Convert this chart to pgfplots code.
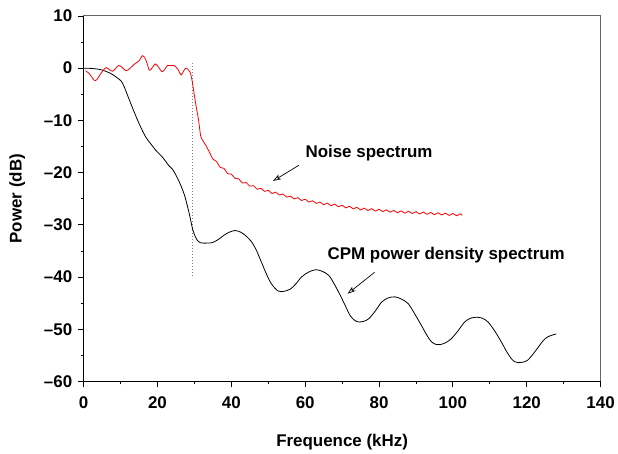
\documentclass[border=0pt]{standalone}
\usepackage{fontspec}
\setmainfont{Liberation Sans}
\usepackage{pgfplots}
\pgfplotsset{compat=1.18}
\usetikzlibrary{arrows.meta}
\begin{document}
\begin{tikzpicture}
\begin{axis}[
  scale only axis,
  width=519pt, height=367pt,
  xmin=0, xmax=140, ymin=-60, ymax=10,
  xtick={0,20,...,140}, ytick={-60,-50,...,10},
  yticklabels={--60,--50,--40,--30,--20,--10,0,10},
  minor x tick num=1, minor y tick num=1,
  tick align=outside, xtick pos=left, ytick pos=left,
  major tick length=6pt, minor tick length=3pt,
  tick style={black, line width=0.8pt},
  axis line style={draw=gray!80!black, line width=1pt},
  /pgf/number format/assume math mode=true,
  ticklabel style={font=\fontsize{17}{20}\selectfont\bfseries},
  xticklabel style={yshift=-6pt},
  yticklabel style={xshift=-2pt},
  label style={font=\fontsize{17}{20}\selectfont\bfseries},
  xlabel={Frequence (kHz)}, ylabel={Power (dB)},
  xlabel style={yshift=-19pt},
  ylabel style={yshift=12pt},
  clip=false,
]
\addplot[gray, dotted, line width=1pt] coordinates {(29.5,1) (29.5,-40)};
\addplot[black, smooth, line width=0.8pt] coordinates {
(0,0) (2,-0.05) (4,-0.2) (5.2,-0.4) (7,-0.9) (7.9,-1.25) (9,-1.8) (10.2,-2.5)
(11,-3.6) (12,-5.4) (13,-7.2) (13.8,-8.6) (15,-10.6) (16,-12.1) (17,-13.4)
(18.3,-14.6) (19.5,-15.7) (21.4,-17.1) (23,-18.6) (24.1,-19.4) (25.3,-20.9)
(26.4,-22.6) (27.3,-24.3) (28.1,-26.4) (28.8,-28.5) (29.5,-30.8) (30.2,-32.2)
(30.8,-33.0) (31.5,-33.4) (32.2,-33.5) (33.5,-33.5) (34.9,-33.4) (36.5,-32.8)
(38.0,-32.0) (39.5,-31.4) (41.0,-31.1) (42.5,-31.4) (43.9,-32.1) (45.3,-33.1)
(46.6,-34.6) (48,-36.9) (49.3,-39.1) (50.5,-40.9) (51.5,-41.9) (52.5,-42.6)
(53.3,-42.8) (54.5,-42.7) (56.0,-42.3) (57.5,-41.3) (59.0,-40.0) (60.8,-39.1)
(62.8,-38.6) (64.6,-38.9) (66.4,-39.7) (68,-41.5) (69.5,-43.5) (71,-45.7)
(72.2,-47.4) (73.4,-48.3) (74.5,-48.6) (75.8,-48.5) (77.2,-48.0) (79,-46.5)
(80.7,-44.8) (82.5,-44.0) (84.3,-43.8) (86,-44.2) (87.9,-45.1) (89.7,-47.1)
(91.5,-49.3) (93,-51.2) (94.2,-52.4) (95.4,-52.9) (96.5,-52.95) (98,-52.6)
(99.6,-51.8) (101.4,-50.3) (103.2,-48.6) (104.8,-47.9) (106.4,-47.7) (108,-47.9)
(109.5,-48.6) (111.3,-50.3) (113.1,-52.4) (114.5,-54.2) (115.8,-55.6) (116.7,-56.2)
(117.6,-56.4) (119,-56.3) (120.3,-55.9) (122,-54.5) (123.9,-52.7) (125,-51.8)
(126.2,-51.3) (128.0,-50.9)
};
\addplot[red, smooth, line width=0.8pt] coordinates {
(0.5,-0.5) (1.3,-0.9) (2.1,-1.6) (3.0,-2.4) (3.7,-2.1) (4.3,-1.4) (5.2,-0.5)
(6.1,0.1) (7.0,-0.3) (7.9,-0.6) (8.7,0.0) (9.5,0.5) (10.5,0.1) (11.5,-0.5)
(12.6,0.0) (13.8,0.8) (15.0,1.4) (16.0,2.4) (16.9,1.5) (17.8,-0.4) (18.6,0.1)
(19.4,0.8) (20.3,0.2) (21.2,-0.7) (22.0,-0.2) (22.7,0.5) (23.6,0.5) (24.5,0.5)
(25.5,-0.2) (26.4,-1.3) (27.1,-0.5) (27.7,0.0) (28.3,-0.3) (28.9,-0.9)
(29.4,-2.5) (29.9,-4.8) (30.5,-7.5) (31.1,-9.8) (31.7,-13.0) (32.4,-14.0)
(33.1,-14.8) (34,-16.0) (35,-17.4) (36,-17.9) (37,-19.0) (38,-19.2) (39,-20.2)
(40,-20.3) (41,-21.1) (42,-21.2) (43,-22.0) (44,-21.9) (45,-22.6) (46,-22.5)
(47,-23.2) (48,-23.0) (49,-23.6) (50,-23.4) (51,-24.0) (52,-23.75) (53,-24.3)
(54,-24.1) (55,-24.7) (56,-24.5) (57,-25.05) (58,-24.8) (59,-25.35) (60,-25.1)
(61,-25.65) (62,-25.4) (63,-25.9) (64,-25.65) (65,-26.15) (66,-25.85) (67,-26.35)
(68,-26.05) (69,-26.55) (70,-26.25) (71,-26.75) (72,-26.45) (73,-26.95)
(74,-26.65) (75,-27.15) (76,-26.8) (77,-27.26) (78,-26.91) (79,-27.37)
(80,-27.02) (81,-27.48) (82,-27.14) (83,-27.59) (84,-27.25) (85,-27.69)
(86,-27.33) (87,-27.77) (88,-27.41) (89,-27.84) (90,-27.48) (91,-27.92)
(92,-27.56) (93,-28.0) (94,-27.63) (95,-28.07) (96,-27.7) (97,-28.13)
(98,-27.77) (99,-28.2) (100,-27.83) (101,-28.27) (102,-27.9) (102.5,-28.2)
};
\draw[black, line width=1pt] (rel axis cs:0,1) -- (rel axis cs:0,0) -- (rel axis cs:1,0);
\node[font=\fontsize{17}{20}\selectfont\bfseries] at (axis cs:77.3,-16.3) {Noise spectrum};
\node[font=\fontsize{17}{20}\selectfont\bfseries] at (axis cs:98.2,-35.9) {CPM power density spectrum};
\draw[-{Stealth[open,length=8pt,width=5.5pt,inset=2pt]}, line width=0.7pt] (axis cs:58.3,-18.6) -- (axis cs:51.3,-21.6);
\draw[-{Stealth[open,length=8pt,width=5.5pt,inset=2pt]}, line width=0.7pt] (axis cs:78.8,-39.1) -- (axis cs:71.5,-43.2);
\path (rel axis cs:0,0) ++(-84pt,-67pt);
\path (rel axis cs:1,1) ++(15pt,16pt);
\end{axis}
\end{tikzpicture}
\end{document}
